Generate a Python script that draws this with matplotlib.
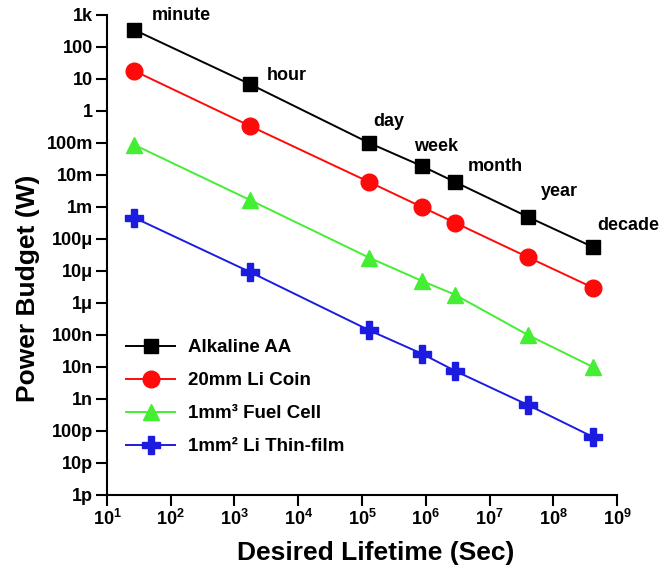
import matplotlib
matplotlib.use("Agg")
import matplotlib.pyplot as plt
from matplotlib.ticker import FixedLocator, FixedFormatter

# lifetime points (sec) as drawn in the figure
lifetime = [27, 1750, 1.3e5, 8.7e5, 2.9e6, 4.0e7, 4.2e8]
periods = ["minute", "hour", "day", "week", "month", "year", "decade"]

alkaline = [340, 6.9, 0.1, 0.019, 6.0e-3, 4.9e-4, 5.6e-5]
li_coin = [17.8, 0.34, 6.0e-3, 1.0e-3, 3.2e-4, 2.7e-5, 3.0e-6]
fuel_cell = [0.087, 1.65e-3, 2.6e-5, 4.9e-6, 1.8e-6, 1.0e-7, 1.0e-8]
thin_film = [4.6e-4, 9.3e-6, 1.4e-7, 2.6e-8, 7.5e-9, 6.5e-10, 6.5e-11]

y_ticks = [1e-12, 1e-11, 1e-10, 1e-9, 1e-8, 1e-7, 1e-6, 1e-5, 1e-4, 1e-3,
           1e-2, 1e-1, 1, 10, 100, 1e3]
y_labels = ["1p", "10p", "100p", "1n", "10n", "100n", "1\u03bc", "10\u03bc",
            "100\u03bc", "1m", "10m", "100m", "1", "10", "100", "1k"]
x_exp = [1, 2, 3, 4, 5, 6, 7, 8, 9]

# label offsets (pixels) from the alkaline markers
label_off = [(17, 14), (17, 9), (4, 21), (-8, 20), (12, 16), (13, 25), (4, 22)]


def main():
    plt.rcParams["font.family"] = ["Liberation Sans", "DejaVu Sans"]
    plt.rcParams["font.weight"] = "bold"
    plt.rcParams["mathtext.fontset"] = "custom"
    plt.rcParams["mathtext.rm"] = "Liberation Sans:bold"
    plt.rcParams["mathtext.bf"] = "Liberation Sans:bold"

    fig = plt.figure(figsize=(6.62, 5.7), dpi=100)
    ax = fig.add_axes([0.1616, 0.1316, 0.7705, 0.8421])

    ax.plot(lifetime, alkaline, "-s", color="black", lw=1.4, ms=10, label="Alkaline AA")
    ax.plot(lifetime, li_coin, "-o", color="#ff0a0a", lw=1.4, ms=12, label="20mm Li Coin")
    ax.plot(lifetime, fuel_cell, "-^", color="#44ee33", lw=1.4, ms=11, label="1mm\u00b3 Fuel Cell")
    ax.plot(lifetime, thin_film, "-P", color="#1c1ce0", lw=1.4, ms=13, label="1mm\u00b2 Li Thin-film")

    for x, y, txt, off in zip(lifetime, alkaline, periods, label_off):
        ax.annotate(txt, (x, y), xytext=off, textcoords="offset pixels",
                    fontsize=13, fontweight="bold", ha="left", va="center")

    ax.set_xscale("log")
    ax.set_yscale("log")
    ax.set_xlim(10, 1e9)
    ax.set_ylim(1e-12, 1e3)

    ax.yaxis.set_major_locator(FixedLocator(y_ticks))
    ax.yaxis.set_major_formatter(FixedFormatter(y_labels))
    ax.yaxis.set_minor_locator(FixedLocator([]))
    ax.xaxis.set_major_locator(FixedLocator([10.0 ** e for e in x_exp]))
    ax.xaxis.set_major_formatter(FixedFormatter([r"$10^{%d}$" % e for e in x_exp]))
    ax.xaxis.set_minor_locator(FixedLocator([]))

    ax.tick_params(direction="out", length=8, width=1.5, labelsize=13, pad=2)
    for s in ["top", "right"]:
        ax.spines[s].set_visible(False)
    for s in ["left", "bottom"]:
        ax.spines[s].set_linewidth(1.5)

    ax.set_xlabel("Desired Lifetime (Sec)", fontsize=19, fontweight="bold")
    ax.set_ylabel("Power Budget (W)", fontsize=19, fontweight="bold")
    ax.xaxis.set_label_coords(0.527, -0.095)
    ax.yaxis.set_label_coords(-0.132, 0.43)

    ax.legend(loc="upper left", bbox_to_anchor=(0.005, 0.36), frameon=False,
              fontsize=13.5, handlelength=2.6, handletextpad=0.7, labelspacing=0.85)

    fig.savefig("out.png", dpi=100, facecolor="white")


if __name__ == "__main__":
    main()
